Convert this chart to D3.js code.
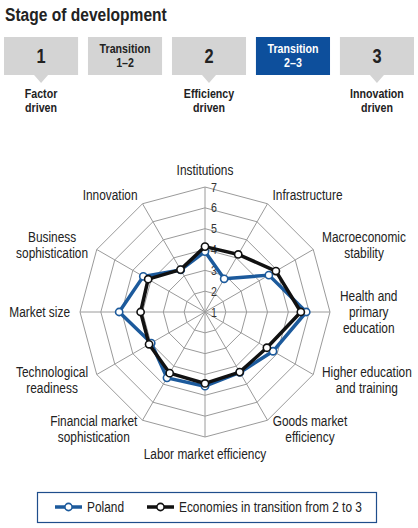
<!DOCTYPE html>
<html><head><meta charset="utf-8">
<script src="https://cdn.jsdelivr.net/npm/d3@7"></script>
<style>
html,body{margin:0;padding:0;background:#fff;}
svg{display:block;font-family:"Liberation Sans",Arial,sans-serif;}
</style></head>
<body><svg id="c" width="418" height="528"></svg>
<script>
// ---- data ----
const stageLabels = [["1"], ["Transition", "1–2"], ["2"], ["Transition", "2–3"], ["3"]];
const stageActive = [false, false, false, true, false];
const stageBelow = [["Factor", "driven"], null, ["Efficiency", "driven"], null, ["Innovation", "driven"]];
const categories = [
  ["Institutions"], ["Infrastructure"], ["Macroeconomic", "stability"],
  ["Health and", "primary", "education"], ["Higher education", "and training"],
  ["Goods market", "efficiency"], ["Labor market efficiency"],
  ["Financial market", "sophistication"], ["Technological", "readiness"],
  ["Market size"], ["Business", "sophistication"], ["Innovation"]
];
const poland = [3.9, 2.84, 4.54, 5.86, 4.77, 4.35, 4.56, 4.65, 3.98, 5.12, 4.42, 3.33];
const transition = [4.14, 4.19, 4.93, 5.6, 4.43, 4.33, 4.43, 4.39, 4.1, 4.09, 4.15, 3.35];
const ticks = [1, 2, 3, 4, 5, 6, 7];
const seriesNames = ["Poland", "Economies in transition from 2 to 3"];
const seriesColors = ["#1c5a9c", "#111111"];

const NARROW = 0.82;
const svg = d3.select("#c");

// narrow text helper (emulates a condensed face)
function ntext(parent, x, y, str, size, opts = {}) {
  const g = parent.append("g").attr("transform", `translate(${x},${y}) scale(${NARROW},1)`);
  return g.append("text").attr("x", 0).attr("y", 0).attr("font-size", size)
    .attr("font-weight", opts.bold ? "bold" : "normal")
    .attr("text-anchor", opts.anchor || "start")
    .attr("fill", opts.fill || "#222").text(str);
}

// ---- title ----
ntext(svg, 5, 21, "Stage of development", 19, { bold: true });

// ---- stage boxes ----
const bx = d3.scaleBand().domain(d3.range(stageLabels.length)).range([4, 414]).paddingInner(0.118).paddingOuter(0);
const boxTop = 37, boxH = 38;
stageLabels.forEach((lab, i) => {
  const x0 = bx(i), w = bx.bandwidth(), cxb = x0 + w / 2;
  const g = svg.append("g");
  g.append("rect").attr("x", x0).attr("y", boxTop).attr("width", w).attr("height", boxH)
    .attr("fill", stageActive[i] ? "#0d4f9c" : "#d4d4d4");
  if (stageBelow[i]) {
    g.append("path").attr("d", `M${cxb - 7},${boxTop + boxH} L${cxb},${boxTop + boxH + 8} L${cxb + 7},${boxTop + boxH} Z`)
      .attr("fill", "#d4d4d4");
  }
  const col = stageActive[i] ? "#fff" : "#222";
  if (lab.length === 1) {
    ntext(g, cxb, boxTop + boxH / 2 + 7, lab[0], 20, { bold: true, anchor: "middle", fill: col });
  } else {
    lab.forEach((l, j) => ntext(g, cxb, boxTop + 15.5 + j * 14.5, l, 13, { bold: true, anchor: "middle", fill: col }));
  }
  if (stageBelow[i]) {
    stageBelow[i].forEach((l, j) => ntext(g, cxb, 97.5 + j * 14, l, 13, { bold: true, anchor: "middle" }));
  }
});

// ---- radar ----
const cx = 205, cy = 312, R = 125;
const n = categories.length;
const ang = d3.scaleLinear().domain([0, n]).range([0, 2 * Math.PI]);
const r = d3.scaleLinear().domain([1, 7]).range([0, R]);
const pt = (i, v) => [cx + r(v) * Math.sin(ang(i)), cy - r(v) * Math.cos(ang(i))];

const grid = svg.append("g").attr("stroke", "#9a9a9a").attr("stroke-width", 1).attr("fill", "none");
ticks.slice(1).forEach(t => {
  grid.append("path").attr("d", d3.line()(d3.range(n).map(i => pt(i, t))) + "Z");
});
d3.range(n).forEach(i => {
  const [x, y] = pt(i, 7);
  grid.append("line").attr("x1", cx).attr("y1", cy).attr("x2", x).attr("y2", y);
});
// tick labels
ticks.forEach(t => {
  ntext(svg, cx + 6, cy - r(t) + 4.5, t, 13, { fill: "#333" });
});

// axis labels
categories.forEach((lines, i) => {
  const a = ang(i), s = Math.sin(a), c = Math.cos(a);
  const top = Math.abs(s) < 0.01;
  const off = top ? 17 : 10;
  const ax = cx + (R + off) * s, ay = cy - (R + off) * c;
  const lh = 16;
  const g = svg.append("g");
  const inner = g.append("g").attr("transform", `scale(${NARROW},1)`);
  const t = inner.append("text").attr("font-size", 14.5).attr("fill", "#222").attr("text-anchor", "middle");
  lines.forEach((l, j) => t.append("tspan").attr("x", 0).attr("y", (j - (lines.length - 1) / 2) * lh + 5).text(l));
  const w = t.node().getBBox().width * NARROW;
  let tx = ax;
  if (!top) tx = s > 0 ? ax + w / 2 : ax - w / 2;
  g.attr("transform", `translate(${tx},${ay})`);
});

// series
const lineGen = d3.line().curve(d3.curveLinearClosed);
[poland, transition].forEach((vals, k) => {
  const pts = vals.map((v, i) => pt(i, v));
  svg.append("path").attr("d", lineGen(pts)).attr("fill", "none").attr("stroke", seriesColors[k])
    .attr("stroke-width", 3.5).attr("stroke-linejoin", "round");
  svg.append("g").selectAll("circle").data(pts).join("circle")
    .attr("cx", d => d[0]).attr("cy", d => d[1]).attr("r", 3.6)
    .attr("fill", "#fff").attr("stroke", seriesColors[k]).attr("stroke-width", 1.6);
});

// ---- legend ----
const lg = svg.append("g");
lg.append("rect").attr("x", 37.5).attr("y", 492.5).attr("width", 339).attr("height", 30)
  .attr("fill", "#fff").attr("stroke", "#1f4e8c").attr("stroke-width", 1.2);
const legX = [55, 147];
seriesNames.forEach((nm, k) => {
  const x0 = legX[k], y0 = 507;
  lg.append("line").attr("x1", x0).attr("x2", x0 + 27).attr("y1", y0).attr("y2", y0)
    .attr("stroke", seriesColors[k]).attr("stroke-width", 3.5);
  lg.append("circle").attr("cx", x0 + 13.5).attr("cy", y0).attr("r", 3.6).attr("fill", "#fff")
    .attr("stroke", seriesColors[k]).attr("stroke-width", 1.6);
  ntext(lg, x0 + 32, y0 + 5, nm, 14.5);
});
</script></body></html>
